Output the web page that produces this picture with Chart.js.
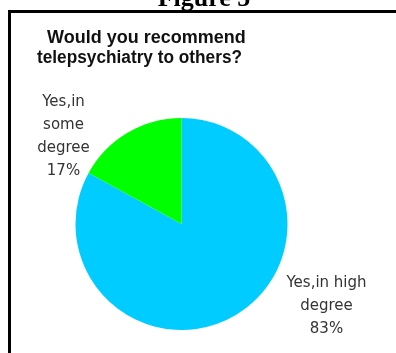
<!DOCTYPE html>
<html>
<head>
<meta charset="utf-8">
<script src="https://cdn.jsdelivr.net/npm/chart.js@4"></script>
<style>
  html, body { margin: 0; padding: 0; background: #fff; }
  #wrap { width: 396px; height: 353px; }
</style>
</head>
<body>
<div id="wrap"><canvas id="pieChart" width="396" height="353"></canvas></div>
<script>
// data
const categories = ['Yes,in high degree', 'Yes,in some degree'];
const percents = [83, 17];
const labelLines = [['Yes,in high', 'degree'], ['Yes,in', 'some', 'degree']];
const sliceColors = ['#00CCFF', '#00FF00'];
const figureCaption = 'Figure 5';
const titleLines = ['Would you recommend', 'telepsychiatry to others?'];

// where each label block sits, relative to the pie centre (px)
const labelOffsets = [[145, 63], [-118, -118]];

// frame, caption, title and slice labels
const decorPlugin = {
    id: 'decor',
    afterDraw(chart) {
        const ctx = chart.ctx;
        ctx.save();

        // box around the chart (left + top edge only visible)
        ctx.strokeStyle = '#000';
        ctx.lineWidth = 3;
        ctx.beginPath();
        ctx.moveTo(9.5, 353);
        ctx.lineTo(9.5, 11.5);
        ctx.lineTo(396, 11.5);
        ctx.stroke();

        // caption, cut off at the top
        ctx.fillStyle = '#000';
        ctx.font = 'bold 26px "Liberation Serif", "Times New Roman", serif';
        ctx.textAlign = 'center';
        ctx.textBaseline = 'alphabetic';
        ctx.fillText(figureCaption, 204, 6);

        // title (second line is set a bit tighter in the original)
        ctx.fillStyle = '#111';
        ctx.font = 'bold 18px "Liberation Sans", Arial, sans-serif';
        ctx.textAlign = 'left';
        ctx.fillText(titleLines[0], 47, 43);
        ctx.fillText(titleLines[1], 37, 63, 205);

        // slice labels
        const meta = chart.getDatasetMeta(0);
        ctx.fillStyle = '#333';
        ctx.font = '15px "DejaVu Sans", sans-serif';
        ctx.textAlign = 'center';
        meta.data.forEach((arc, i) => {
            const x = arc.x + labelOffsets[i][0];
            let y = arc.y + labelOffsets[i][1];
            const lines = labelLines[i].concat([percents[i] + '%']);
            lines.forEach(line => {
                ctx.fillText(line, x, y);
                y += 23;
            });
        });

        ctx.restore();
    }
};

const ctx = document.getElementById('pieChart').getContext('2d');
const pieChart = new Chart(ctx, {
    type: 'pie',
    data: {
        labels: categories,
        datasets: [{
            data: percents,
            backgroundColor: sliceColors,
            borderWidth: 0
        }]
    },
    options: {
        responsive: false,
        animation: false,
        layout: {
            padding: { left: 75, right: 108, top: 118, bottom: 23 }
        },
        plugins: {
            legend: { display: false },
            tooltip: { enabled: false },
            title: { display: false }
        }
    },
    plugins: [decorPlugin]
});
</script>
</body>
</html>
